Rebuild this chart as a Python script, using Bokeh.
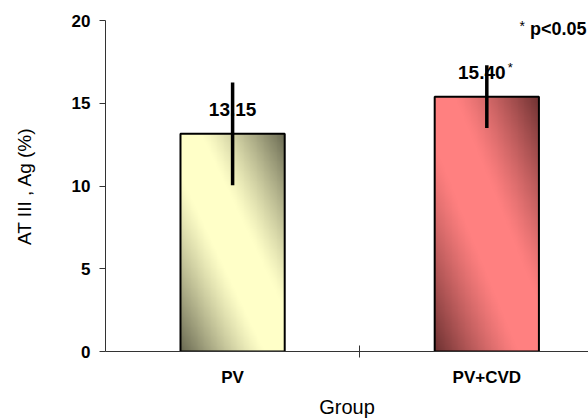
import numpy as np
from bokeh.plotting import figure
from bokeh.models import Range1d, FixedTicker, Label, ColumnDataSource
from bokeh.core.properties import value
from bokeh.embed import file_html
from bokeh.resources import INLINE

# ---- data ----
groups = ["PV", "PV+CVD"]
means = [13.15, 15.40]
sds = [3.1, 1.9]
value_labels = ["13.15", "15.40"]
sig_marks = ["", "*"]
y_ticks = [0, 5, 10, 15, 20]
note_text = "p<0.05"
x_title = "Group"
y_title = "AT III , Ag (%)"

light_colors = [(255, 255, 200), (255, 128, 128)]
dark_colors = [(105, 105, 82), (110, 50, 50)]

FONT = "Liberation Sans"
W, H = 588, 420
FL, FB = 105, 351  # frame left / bottom in canvas pixels

xs = [i + 0.5 for i in range(len(groups))]
bar_w = 0.41

p = figure(width=W, height=H, output_backend="svg", toolbar_location=None,
           x_range=Range1d(0, 1.9), y_range=Range1d(0, 20),
           min_border_left=FL, min_border_right=0, min_border_top=20,
           min_border_bottom=H - FB)
p.outline_line_color = None
p.xgrid.visible = False
p.ygrid.visible = False
p.background_fill_color = "white"
p.border_fill_color = "white"

# gradient fills (diagonal shading)
def gradient(light, dark, nx=120, ny=240):
    u = np.linspace(0, 1, nx)[None, :]
    v = np.linspace(1, 0, ny)[:, None]  # row 0 is bottom -> v=1 (from top)
    t = np.abs(u - v)
    m = np.clip((t - 0.2) / 0.8, 0, 1) ** 1.2
    img = np.empty((ny, nx), dtype=np.uint32)
    view = img.view(dtype=np.uint8).reshape((ny, nx, 4))
    for k in range(3):
        view[:, :, k] = (light[k] * (1 - m) + dark[k] * m).astype(np.uint8)
    view[:, :, 3] = 255
    return img

for x, m_, lc, dc in zip(xs, means, light_colors, dark_colors):
    p.image_rgba(image=[gradient(lc, dc)], x=x - bar_w / 2, y=0, dw=bar_w, dh=m_)

src = ColumnDataSource(dict(
    x=xs, top=means,
    lo=[m - s for m, s in zip(means, sds)],
    hi=[m + s for m, s in zip(means, sds)],
))

p.vbar(x="x", top="top", width=bar_w, bottom=0, source=src,
       fill_alpha=0, line_color="black", line_width=2)
p.segment(x0="x", x1="x", y0="lo", y1="hi", source=src,
          line_color="black", line_width=3.5)

# value labels
lab_src = ColumnDataSource(dict(x=xs, y=[m + 1.45 for m in means], lab=value_labels,
                                star=sig_marks, xoff=[-5 if s else 0 for s in sig_marks]))
p.text(x="x", y="y", text="lab", source=lab_src, x_offset="xoff",
       text_align="center", text_baseline="middle",
       text_font=value(FONT), text_font_size="19px", text_font_style="bold",
       text_color="black")
p.text(x="x", y="y", text="star", source=lab_src, x_offset=21, y_offset=-5,
       text_align="left", text_baseline="middle",
       text_font=value(FONT), text_font_size="13px", text_color="black")

# y axis
ya = p.yaxis[0]
ya.ticker = FixedTicker(ticks=y_ticks)
ya.major_tick_in = 0
ya.major_tick_out = 6
ya.minor_tick_line_color = None
ya.axis_line_color = "#333333"
ya.major_tick_line_color = "#333333"
ya.major_label_standoff = 9
ya.major_label_text_font = FONT
ya.major_label_text_font_size = "17px"
ya.major_label_text_font_style = "bold"
ya.major_label_text_color = "black"
ya.axis_label = y_title
ya.axis_label_standoff = 34
ya.axis_label_text_font = FONT
ya.axis_label_text_font_size = "19px"
ya.axis_label_text_font_style = "normal"
ya.axis_label_text_color = "black"

# x axis
xa = p.xaxis[0]
xa.ticker = FixedTicker(ticks=xs, minor_ticks=[1.0])
xa.major_label_overrides = {x: g for x, g in zip(xs, groups)}
xa.major_tick_in = 0
xa.major_tick_out = 0
xa.minor_tick_in = 6
xa.minor_tick_out = 6
xa.minor_tick_line_color = "#333333"
xa.axis_line_color = "#333333"
xa.major_label_standoff = 10
xa.major_label_text_font = FONT
xa.major_label_text_font_size = "17px"
xa.major_label_text_font_style = "bold"
xa.major_label_text_color = "black"
xa.axis_label = x_title
xa.axis_label_standoff = 6
xa.axis_label_text_font = FONT
xa.axis_label_text_font_size = "20px"
xa.axis_label_text_font_style = "normal"
xa.axis_label_text_color = "black"

# significance note (inside the frame; positions relative to frame bottom-left)
p.add_layout(Label(x=586 - FL, y=FB - 28, x_units="screen", y_units="screen",
                   text=note_text, text_align="right", text_baseline="middle",
                   text_font=FONT, text_font_size="18px", text_font_style="bold",
                   text_color="black"))
p.add_layout(Label(x=519 - FL, y=FB - 25, x_units="screen", y_units="screen",
                   text="*", text_align="left", text_baseline="middle",
                   text_font=FONT, text_font_size="14px", text_color="black"))

open("out.html", "w").write(file_html(p, INLINE))
